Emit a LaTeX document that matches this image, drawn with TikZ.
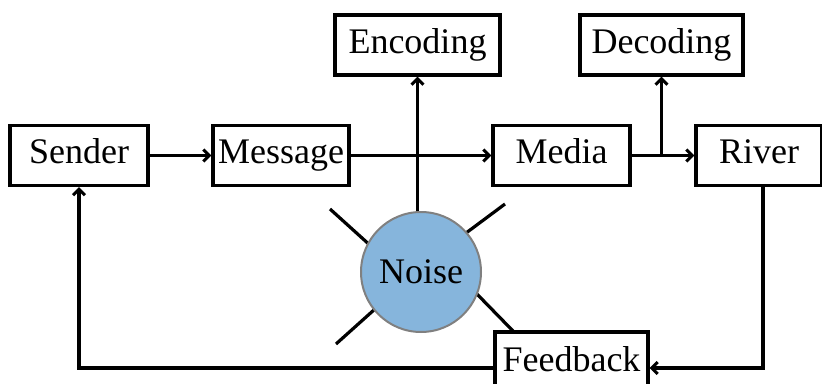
\documentclass[tikz,border=0pt]{standalone}
\usepackage{fontspec}
\setmainfont{Liberation Serif}
\usetikzlibrary{arrows.meta}
\definecolor{noiseblue}{RGB}{134,181,220}
\definecolor{ringgray}{RGB}{128,128,128}
\begin{document}
\begin{tikzpicture}[x=1pt,y=-1pt,
  label font/.style={font=\fontsize{36}{42}\selectfont},
  box/.style={draw, fill=white, line width=3.2pt, inner sep=0pt, label font,
              text height=24.5pt, text depth=8pt},
  link/.style={line width=3.2pt,
               -{Straight Barb[length=6pt,width=12pt,line width=3pt]}},
  ray/.style={line width=3.2pt}]
\clip (0,0) rectangle (822,383);

% rays around the noise source (drawn first, the circle covers their inner ends)
\draw[ray] (330,209) -- (372,247);
\draw[ray] (505,204) -- (462,236);
\draw[ray] (375,309) -- (336,344);
\draw[ray] (474,291) -- (513,331);

% blocks
\node[box, minimum width=138pt, minimum height=60pt] (sender)   at (79,155.5)    {Sender};
\node[box, minimum width=136pt, minimum height=60pt] (message)  at (281,155.5)   {Message};
\node[box, minimum width=165pt, minimum height=60pt] (encoding) at (417.5,45)    {Encoding};
\node[box, minimum width=137pt, minimum height=60pt] (media)    at (561.5,155.5) {Media};
\node[box, minimum width=163pt, minimum height=60pt] (decoding) at (661.5,45)    {Decoding};
\node[box, minimum width=126pt, minimum height=60pt] (river)    at (759,155.5)   {River};
\node[box, minimum width=153pt, minimum height=63pt] (feedback) at (571.5,363.5) {Feedback};
\node[circle, draw=ringgray, fill=noiseblue, line width=2pt, minimum size=120pt,
      inner sep=0pt, label font] (noise) at (421,272) {Noise};

\coordinate (fbrow) at (0,368);

% message flow
\draw[link] (sender) -- (message);
\draw[link] (message) -- (media);
\draw[link] (encoding.south |- noise.north) -- (encoding.south);
\draw[link] (media) -- (river);
\draw[link] (media.east -| decoding.south) -- (decoding.south);

% feedback loop
\draw[link] ([xshift=4pt]river.south) |- (feedback.east |- fbrow);
\draw[link] (feedback.west |- fbrow) -| (sender.south);
\end{tikzpicture}
\end{document}
